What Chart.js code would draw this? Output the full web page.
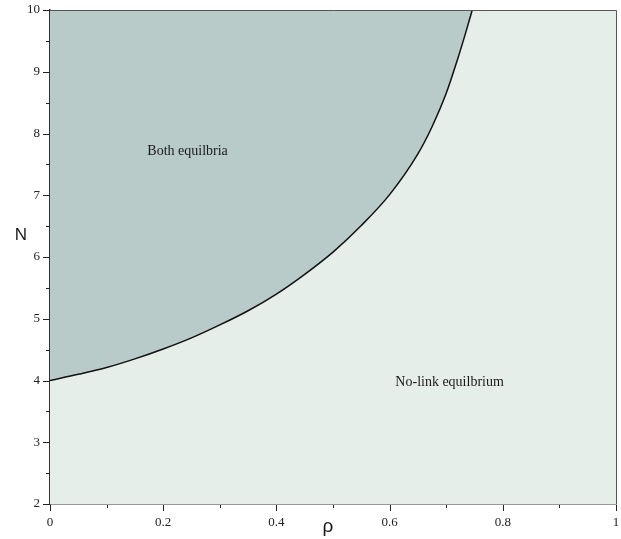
<!DOCTYPE html>
<html>
<head>
<meta charset="utf-8">
<script src="https://cdn.jsdelivr.net/npm/chart.js@4.4.1/dist/chart.umd.min.js"></script>
<style>
  html, body { margin: 0; padding: 0; background: #ffffff; }
  #wrap { width: 621px; height: 539px; position: relative; }
</style>
</head>
<body>
<div id="wrap"><canvas id="c"></canvas></div>
<script>
// Boundary between the two regions: correlation rho vs. group size N
const rhoValues = [0, 0.05, 0.10, 0.15, 0.20, 0.25, 0.30, 0.35, 0.40, 0.45, 0.50, 0.55, 0.60, 0.65, 0.675, 0.70, 0.72, 0.735, 0.746];
const nValues   = [4.00, 4.10, 4.21, 4.35, 4.51, 4.69, 4.90, 5.13, 5.40, 5.72, 6.08, 6.51, 7.01, 7.67, 8.11, 8.65, 9.20, 9.65, 10.00];

// Axis ticks
const xMajorTicks = [0, 0.2, 0.4, 0.6, 0.8, 1];
const xTickLabels = ['0', '0.2', '0.4', '0.6', '0.8', '1'];
const yMajorTicks = [2, 3, 4, 5, 6, 7, 8, 9, 10];
const yTickLabels = ['2', '3', '4', '5', '6', '7', '8', '9', '10'];

// Region labels
const regionLabels = [
  { text: 'Both equilbria', x: 0.243, y: 7.71 },
  { text: 'No-link equilbrium', x: 0.706, y: 3.97 }
];

const points = rhoValues.map((r, i) => ({ x: r, y: nValues[i] }));

function majorIndex(list, v) {
  return list.findIndex(t => Math.abs(t - v) < 1e-6);
}

const serif = '"Liberation Serif", "Times New Roman", serif';
const sans = '"Liberation Sans", Arial, sans-serif';

const regionPlugin = {
  id: 'regions',
  beforeDatasetsDraw(chart) {
    const { ctx, chartArea: a } = chart;
    ctx.save();
    ctx.fillStyle = '#e6eeea';
    ctx.fillRect(a.left, a.top, a.right - a.left, a.bottom - a.top);
    ctx.restore();
  },
  afterDraw(chart) {
    const { ctx, chartArea: a, scales } = chart;
    const xs = scales.x, ys = scales.y;
    ctx.save();
    // frame on top and right
    ctx.strokeStyle = '#555';
    ctx.lineWidth = 1;
    ctx.beginPath();
    ctx.moveTo(a.left, a.top + 0.5);
    ctx.lineTo(a.right + 0.5, a.top + 0.5);
    ctx.lineTo(a.right + 0.5, a.bottom);
    ctx.stroke();

    // tick marks (long at labelled values, short between)
    ctx.strokeStyle = '#222';
    ctx.lineWidth = 1;
    ys.ticks.forEach(t => {
      const py = Math.round(ys.getPixelForValue(t.value)) + 0.5;
      const len = majorIndex(yMajorTicks, t.value) >= 0 ? 7 : 4;
      ctx.beginPath();
      ctx.moveTo(a.left - len, py);
      ctx.lineTo(a.left, py);
      ctx.stroke();
    });
    xs.ticks.forEach(t => {
      const px = Math.round(xs.getPixelForValue(t.value)) + 0.5;
      const len = majorIndex(xMajorTicks, t.value) >= 0 ? 6 : 3;
      ctx.beginPath();
      ctx.moveTo(px, a.bottom + 1);
      ctx.lineTo(px, a.bottom + 1 + len);
      ctx.stroke();
    });

    // region labels
    ctx.fillStyle = '#1a1a1a';
    ctx.font = '14px ' + serif;
    ctx.textAlign = 'center';
    ctx.textBaseline = 'middle';
    regionLabels.forEach(l => {
      ctx.fillText(l.text, xs.getPixelForValue(l.x), ys.getPixelForValue(l.y));
    });

    // axis titles
    ctx.font = '17px ' + sans;
    ctx.fillText('N', 21, 235);
    ctx.font = '19px ' + sans;
    ctx.fillText('ρ', 328, 527);
    ctx.restore();
  }
};

new Chart(document.getElementById('c'), {
  type: 'scatter',
  data: {
    datasets: [{
      data: points,
      showLine: true,
      borderColor: '#111111',
      borderWidth: 1.5,
      pointRadius: 0,
      cubicInterpolationMode: 'monotone',
      fill: 'end',
      backgroundColor: '#b8cbc8'
    }]
  },
  options: {
    responsive: true,
    maintainAspectRatio: false,
    animation: false,
    layout: { padding: { top: 10, right: 5, left: 0, bottom: 0 } },
    plugins: {
      legend: { display: false },
      tooltip: { enabled: false }
    },
    scales: {
      x: {
        type: 'linear',
        min: 0,
        max: 1,
        afterFit(s) { s.height = 35; s.paddingLeft = 0; s.paddingRight = 0; },
        ticks: {
          stepSize: 0.1,
          autoSkip: false,
          maxRotation: 0,
          padding: 11,
          color: '#222',
          font: { family: serif, size: 13 },
          callback(v) {
            const i = majorIndex(xMajorTicks, v);
            return i >= 0 ? xTickLabels[i] : '';
          }
        },
        grid: { display: false, drawTicks: false },
        border: { display: true, color: '#333', width: 1.5 }
      },
      y: {
        type: 'linear',
        min: 2,
        max: 10,
        afterFit(s) { s.width = 50; s.paddingTop = 0; s.paddingBottom = 0; },
        ticks: {
          stepSize: 0.5,
          autoSkip: false,
          padding: 10,
          color: '#222',
          font: { family: serif, size: 13 },
          callback(v) {
            const i = majorIndex(yMajorTicks, v);
            return i >= 0 ? yTickLabels[i] : '';
          }
        },
        grid: { display: false, drawTicks: false },
        border: { display: true, color: '#333', width: 1.5 }
      }
    }
  },
  plugins: [regionPlugin]
});
</script>
</body>
</html>
